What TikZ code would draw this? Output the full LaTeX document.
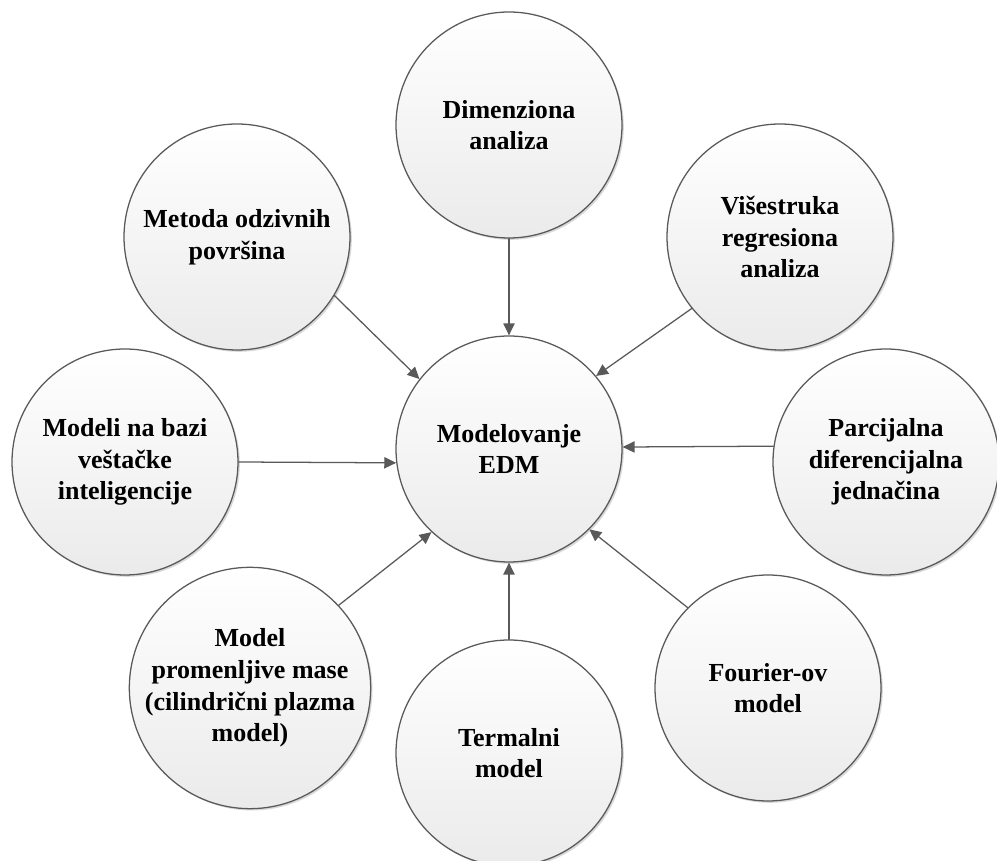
\documentclass[tikz,border=0pt]{standalone}
\usepackage{fontspec}
\setmainfont{Liberation Serif}
\usetikzlibrary{arrows.meta,shadows}
\begin{document}
\begin{tikzpicture}[line join=round, line cap=round, >={Triangle[length=8.5pt,width=8pt]},
		krug/.style={circle, draw=black!65, line width=.9pt, top color=white, bottom color=black!8,
			minimum size=5.65cm, inner sep=0pt, align=center, font=\fontsize{18.5}{22.5}\selectfont\bfseries,
			drop shadow={shadow xshift=1.3pt, shadow yshift=-1.3pt, opacity=.25, fill=black!60}},
		veza/.style={->, draw=black!65, line width=.9pt}]
	\useasboundingbox (0,0) rectangle (24.925,21.525);
	% sredina
	\node[krug] (edm) at (12.725,10.3) {Modelovanje\\EDM};
	% okolni krugovi
	\node[krug] (dim) at (12.725,18.4) {Dimenziona\\analiza};
	\node[krug] (rsm) at (5.925,15.6) {Metoda odzivnih\\površina};
	\node[krug] (mra) at (19.5,15.6) {Višestruka\\regresiona\\analiza};
	\node[krug] (ai) at (3.125,9.975) {Modeli na bazi\\veštačke\\inteligencije};
	\node[krug] (pde) at (22.15,9.975) {Parcijalna\\diferencijalna\\jednačina};
	\node[krug] (vm) at (6.25,4.325) {Model\\promenljive mase\\(cilindrični plazma\\model)};
	\node[krug] (term) at (12.725,2.7) {Termalni\\model};
	\node[krug] (four) at (19.2,4.325) {Fourier-ov\\model};
	% strelice
	\draw[veza] (dim) -- (edm);
	\draw[veza] (rsm.-31) -- (edm.142);
	\draw[veza] (mra.-141) -- (edm.40);
	\draw[veza] (ai.east) -- (edm.187);
	\draw[veza] (pde.172) -- (edm.1);
	\draw[veza] (vm.43) -- (edm.-133);
	\draw[veza] (term) -- (edm);
	\draw[veza] (four.135) -- (edm.-45);
\end{tikzpicture}
\end{document}
